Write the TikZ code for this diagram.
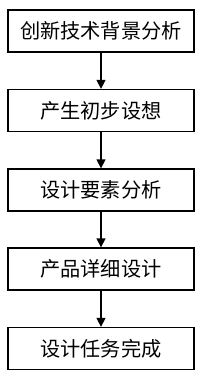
\documentclass[tikz,border=0pt]{standalone}
\usepackage{fontspec}
\setmainfont{Noto Sans CJK SC}
\usetikzlibrary{arrows.meta}

\begin{document}
\begin{tikzpicture}[x=1pt, y=-1pt]
            \tikzset{
                stage/.style={draw=black, line width=1.3pt, minimum width=186pt, minimum height=42pt,
                    inner sep=0pt, font=\fontsize{20.2pt}{21pt}\selectfont},
                flowarrow/.style={draw=black, line width=1.3pt, -{Triangle[length=9pt, width=9pt]}}
            }
            \useasboundingbox (0,0) rectangle (203,373);

            % Stages
            \node[stage] (background) at (101,31.0) {创新技术背景分析};
            \node[stage] (idea) at (101,110.5) {产生初步设想};
            \node[stage] (elements) at (101,190.0) {设计要素分析};
            \node[stage] (detail) at (101,269.0) {产品详细设计};
            \node[stage] (done) at (101,348.5) {设计任务完成};

            % Arrows between stages
            \draw[flowarrow] (background) -- (idea);
            \draw[flowarrow] (idea) -- (elements);
            \draw[flowarrow] (elements) -- (detail);
            \draw[flowarrow] (detail) -- (done);
        \end{tikzpicture}
\end{document}
